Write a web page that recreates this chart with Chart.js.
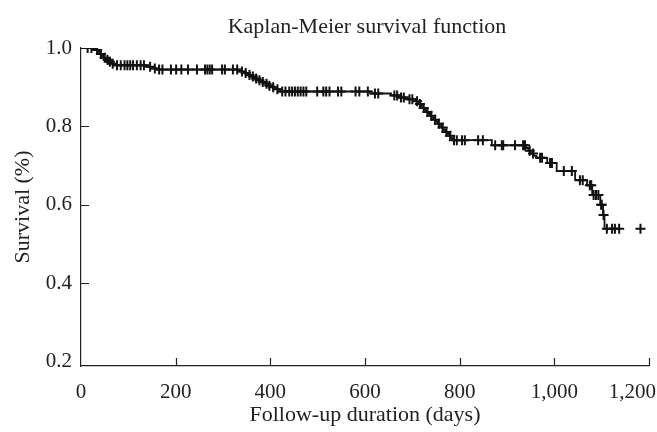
<!DOCTYPE html>
<html>
<head>
<meta charset="utf-8">
<script src="https://cdn.jsdelivr.net/npm/chart.js@4"></script>
<style>
  html, body { margin: 0; padding: 0; background: #fff; }
  #wrap { width: 657px; height: 432px; }
</style>
</head>
<body>
<div id="wrap"><canvas id="myChart" width="657" height="432"></canvas></div>
<script>
// event times (days) and survival right after each event
const eventDays = [0, 32, 36, 40, 44, 48, 53, 58, 63, 70, 140, 152, 160,
  335, 345, 352, 360, 366, 373, 380, 388, 395, 402, 410, 420,
  611, 655, 672, 690, 708, 714, 718, 722, 726, 730, 734, 738, 742, 746,
  750, 754, 758, 762, 766, 770, 774, 778, 782, 786, 868,
  940, 945, 950, 956, 962, 985, 1005, 1044, 1069, 1080, 1097, 1103, 1106];
const eventSurv = [1.0, 0.995, 0.99, 0.985, 0.98, 0.975, 0.97, 0.965, 0.96, 0.956, 0.952, 0.948, 0.945,
  0.94, 0.936, 0.931, 0.927, 0.922, 0.918, 0.913, 0.909, 0.904, 0.9, 0.895, 0.889,
  0.884, 0.879, 0.874, 0.869, 0.864, 0.857, 0.852, 0.847, 0.842, 0.837, 0.832, 0.827, 0.822, 0.817,
  0.812, 0.807, 0.802, 0.797, 0.791, 0.786, 0.781, 0.776, 0.77, 0.765, 0.752,
  0.745, 0.738, 0.731, 0.725, 0.72, 0.707, 0.686, 0.663, 0.65, 0.625, 0.6, 0.574, 0.539];

// censored observations (days)
const censorDays = [14, 22, 34, 42, 50, 56, 61, 67,
  76, 84, 92, 98, 104, 110, 118, 126, 133, 146, 156,
  165, 172, 190, 201, 212, 226, 245, 262, 267, 272, 277, 298, 304, 321, 330,
  340, 348, 356, 363, 370, 377, 384, 392, 398, 406, 415,
  425, 432, 440, 446, 452, 458, 464, 470, 476, 499, 512, 518, 525, 543, 550, 580, 588, 606,
  621, 628, 662, 668, 676, 682, 694, 700, 710,
  716, 724, 732, 740, 748, 756, 764, 772, 780, 788,
  794, 805, 811, 839, 849, 875, 889, 892, 917, 934, 938,
  948, 955, 970, 974, 991, 995, 1020, 1037, 1054, 1060, 1075, 1078,
  1083, 1088, 1093, 1099, 1100, 1104, 1111, 1122, 1128, 1137, 1182];

const lineEndDay = 1137;

const xTicks = [0, 200, 400, 600, 800, 1000, 1200];
const xTickLabels = ["0", "200", "400", "600", "800", "1,000", "1,200"];
const yTicks = [0.2, 0.4, 0.6, 0.8, 1.0];
const yTickLabels = ["0.2", "0.4", "0.6", "0.8", "1.0"];

// survival value holding at a given day (step lookup)
function survAt(day) {
  let s = eventSurv[0];
  for (let i = 0; i < eventDays.length; i++) {
    if (eventDays[i] <= day) s = eventSurv[i];
  }
  return s;
}

const linePoints = eventDays.map((d, i) => ({ x: d, y: eventSurv[i] }));
linePoints.push({ x: lineEndDay, y: survAt(lineEndDay) });
const censorPoints = censorDays.map((d) => ({ x: d, y: survAt(d) }));

const FONT = "'Liberation Serif', 'DejaVu Serif', serif";

const axisDecor = {
  id: "axisDecor",
  afterDraw(chart) {
    const ctx = chart.ctx;
    const area = chart.chartArea;
    const xs = chart.scales.x;
    const ys = chart.scales.y;
    ctx.save();
    ctx.strokeStyle = "#222";
    ctx.lineWidth = 1.2;
    ctx.beginPath();
    xTicks.forEach((v) => {
      if (v === 0) return;
      const px = Math.round(xs.getPixelForValue(v)) + 0.5;
      ctx.moveTo(px, area.bottom);
      ctx.lineTo(px, area.bottom - 8);
    });
    yTicks.forEach((v) => {
      if (v === 0.2 || v === 1.0) return;
      const py = Math.round(ys.getPixelForValue(v)) + 0.5;
      ctx.moveTo(area.left, py);
      ctx.lineTo(area.left + 8, py);
    });
    ctx.stroke();

    ctx.fillStyle = "#222";
    ctx.font = "21px " + FONT;
    ctx.textBaseline = "middle";
    ctx.textAlign = "right";
    yTicks.forEach((v, i) => {
      ctx.fillText(yTickLabels[i], area.left - 9, ys.getPixelForValue(v));
    });
    ctx.textAlign = "center";
    xTicks.forEach((v, i) => {
      let px = xs.getPixelForValue(v);
      const w = ctx.measureText(xTickLabels[i]).width;
      if (px + w / 2 > chart.width - 1) px = chart.width - 1 - w / 2;
      ctx.fillText(xTickLabels[i], px, area.bottom + 26);
    });

    const cx = (area.left + area.right) / 2;
    ctx.font = "22px " + FONT;
    ctx.fillText("Follow-up duration (days)", cx, area.bottom + 49);
    ctx.fillText("Kaplan-Meier survival function", cx + 2, 27);

    ctx.translate(23, (area.top + area.bottom) / 2);
    ctx.rotate(-Math.PI / 2);
    ctx.fillText("Survival (%)", 0, 0);
    ctx.restore();
  },
};

const config = {
  type: "scatter",
  data: {
    datasets: [
      {
        label: "Survival",
        data: linePoints,
        showLine: true,
        stepped: "before",
        borderColor: "#111",
        borderWidth: 1.8,
        pointRadius: 0,
        fill: false,
      },
      {
        label: "Censored",
        data: censorPoints,
        pointStyle: "cross",
        pointRadius: 5,
        borderColor: "#111",
        borderWidth: 2,
        showLine: false,
      },
    ],
  },
  options: {
    responsive: false,
    animation: false,
    layout: { padding: { left: 0, right: 8, top: 48, bottom: 0 } },
    plugins: {
      legend: { display: false },
      title: { display: false },
      tooltip: { enabled: false },
    },
    scales: {
      x: {
        type: "linear",
        min: 0,
        max: 1200,
        grid: { display: false },
        border: { display: true, color: "#222", width: 1.2 },
        ticks: { display: false },
        afterFit: (scale) => { scale.height = 66; },
      },
      y: {
        type: "linear",
        min: 0.189,
        max: 1.0,
        grid: { display: false },
        border: { display: true, color: "#222", width: 1.2 },
        ticks: { display: false },
        afterFit: (scale) => { scale.width = 81; },
      },
    },
  },
  plugins: [axisDecor],
};

const myChart = new Chart(document.getElementById("myChart"), config);
</script>
</body>
</html>
